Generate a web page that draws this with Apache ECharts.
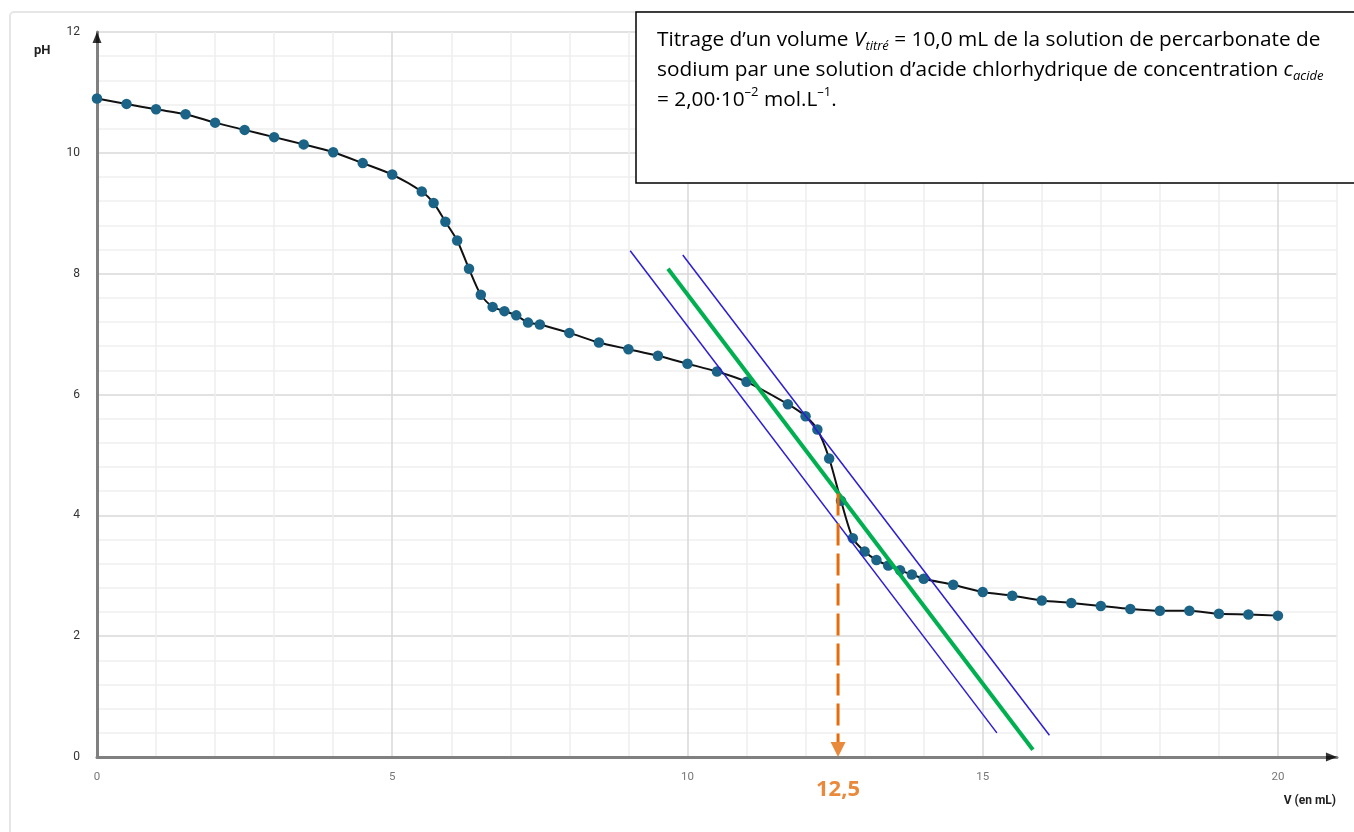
<!DOCTYPE html>
<html>
<head>
<meta charset="utf-8">
<script src="https://cdn.jsdelivr.net/npm/echarts@6/dist/echarts.min.js"></script>
<style>html,body{margin:0;padding:0;background:#fff}#c{width:1354px;height:832px}</style>
</head>
<body>
<div id="c"></div>
<script>
// ---- data ----
const volumes = [0,0.5,1,1.5,2,2.5,3,3.5,4,4.5,5,5.5,5.7,5.9,6.1,6.3,6.5,6.7,6.9,7.1,7.3,7.5,8,8.5,9,9.5,10,10.5,11,11.7,12,12.2,12.4,12.6,12.8,13,13.2,13.4,13.6,13.8,14,14.5,15,15.5,16,16.5,17,17.5,18,18.5,19,19.5,20];
const phValues = [10.90,10.81,10.72,10.64,10.50,10.38,10.26,10.14,10.01,9.83,9.64,9.36,9.17,8.86,8.55,8.08,7.65,7.45,7.38,7.31,7.19,7.16,7.02,6.86,6.75,6.64,6.51,6.38,6.21,5.84,5.64,5.42,4.94,4.24,3.62,3.40,3.26,3.17,3.09,3.02,2.95,2.85,2.73,2.67,2.59,2.55,2.50,2.45,2.42,2.42,2.37,2.36,2.34];
const tangentMain = [[9.67,8.08],[15.85,0.12]];
const tangentLow = [[9.03,8.38],[15.24,0.40]];
const tangentHigh = [[9.92,8.31],[16.13,0.36]];
const equivV = 12.55;
const equivLine = [[12.55,4.36],[12.55,0.25]];
const equivLabel = '12,5';
const xTickLabels = [0,5,10,15,20];
const yTickLabels = [0,2,4,6,8,10,12];

const curve = volumes.map((v,i)=>[v,phValues[i]]);

const chart = echarts.init(document.getElementById('c'), null, {renderer:'canvas'});
const FONT = 'Roboto, "DejaVu Sans", sans-serif';
const BOXFONT = '"Open Sans", "Noto Sans", sans-serif';

const option = {
  backgroundColor:'#fff',
  animation:false,
  grid:{left:97,right:17,top:32,bottom:75,containLabel:false},
  xAxis:{
    type:'value',min:0,max:21,interval:1,
    axisLine:{show:true,onZero:false,lineStyle:{color:'#808080',width:3}},
    axisTick:{show:false},
    axisLabel:{color:'#777',fontSize:11.5,fontFamily:FONT,margin:14,
      formatter:v=> xTickLabels.indexOf(Math.round(v))>=0 && Math.abs(v-Math.round(v))<1e-6 ? String(Math.round(v)) : ''},
    splitLine:{show:true,lineStyle:{color:['#d9d9d9','#eeeeee','#eeeeee','#eeeeee','#eeeeee'],width:1.5}}
  },
  yAxis:{
    type:'value',min:0,max:12,interval:0.4,
    axisLine:{show:true,onZero:false,lineStyle:{color:'#808080',width:3}},
    axisTick:{show:false},
    axisLabel:{color:'#333',fontSize:12,fontFamily:FONT,margin:17,
      formatter:v=>{const r=Math.round(v); return (Math.abs(v-r)<1e-6 && yTickLabels.indexOf(r)>=0)? String(r):'';}},
    splitLine:{show:true,lineStyle:{color:['#d9d9d9','#efefef','#efefef','#efefef','#efefef'],width:1.5}}
  },
  series:[
    {type:'line',data:curve,smooth:0.25,symbol:'circle',symbolSize:10.5,
      lineStyle:{color:'#111',width:2},itemStyle:{color:'#1b6487'},z:3},
    {type:'line',data:tangentLow,symbol:'none',lineStyle:{color:'#2c1ed0',width:1.5},z:4},
    {type:'line',data:tangentHigh,symbol:'none',lineStyle:{color:'#2c1ed0',width:1.5},z:4},
    {type:'line',data:tangentMain,symbol:'none',lineStyle:{color:'#00b050',width:4},z:5},
    {type:'line',data:equivLine,symbol:'none',lineStyle:{color:'#e46c0a',width:3,type:[22,8]},z:5},
    {type:'scatter',data:[{value:[equivV,0.124]}],symbol:'triangle',symbolSize:[15,15],symbolRotate:180,
      itemStyle:{color:'#e46c0a'},z:6,clip:false},
    {type:'scatter',data:[{value:[equivV,-0.55],label:{show:true}}],symbol:'circle',symbolSize:0,clip:false,
      label:{show:true,position:'inside',formatter:equivLabel,color:'#e46c0a',fontSize:22,fontWeight:'bold',fontFamily:'"Open Sans", sans-serif'},z:6},
    {type:'scatter',clip:false,symbol:'triangle',itemStyle:{color:'#000'},z:6,
      data:[{value:[20.906,0],symbolSize:[9,11],symbolRotate:-90},{value:[0,11.909],symbolSize:[9,11],symbolRotate:0}]}
  ],
  graphic:[
    {type:'rect',z:-10,silent:true,shape:{x:10,y:12,width:1360,height:840,r:4},style:{fill:'none',stroke:'#e6e6e6',lineWidth:2}},
    {type:'text',left:34,top:44,style:{text:'pH',fontSize:13,fontWeight:'bold',fill:'#222',fontFamily:FONT}},
    {type:'text',right:18,top:795,style:{text:'V (en mL)',fontSize:12,fontWeight:'bold',fill:'#222',fontFamily:FONT}},
    {type:'rect',z:50,shape:{x:636,y:12,width:740,height:171},style:{fill:'#fff',stroke:'#000',lineWidth:1.5}},
    {type:'text',z:51,x:657,y:25,style:{
      text:'{n|Titrage d’un volume }{i|V}{sub|titré}{n| = 10,0 mL de la solution de percarbonate de}\n{n|sodium par une solution d’acide chlorhydrique de concentration }{i|c}{sub|acide}\n{n|= 2,00·10}{sup|–2}{n| mol.L}{sup|–1}{n|.}',
      rich:{
        n:{fontSize:20.8,fontFamily:BOXFONT,fill:'#000',lineHeight:30},
        i:{fontSize:20.8,fontFamily:BOXFONT,fontStyle:'italic',fill:'#000',lineHeight:30},
        sub:{fontSize:13,fontFamily:BOXFONT,fontStyle:'italic',fill:'#000',lineHeight:15,verticalAlign:'bottom',padding:[0,0,2,0]},
        sup:{fontSize:13,fontFamily:BOXFONT,fill:'#000',lineHeight:15,verticalAlign:'top',padding:[1,0,0,0]}
      }}}
  ]
};
chart.setOption(option);
</script>
</body>
</html>
